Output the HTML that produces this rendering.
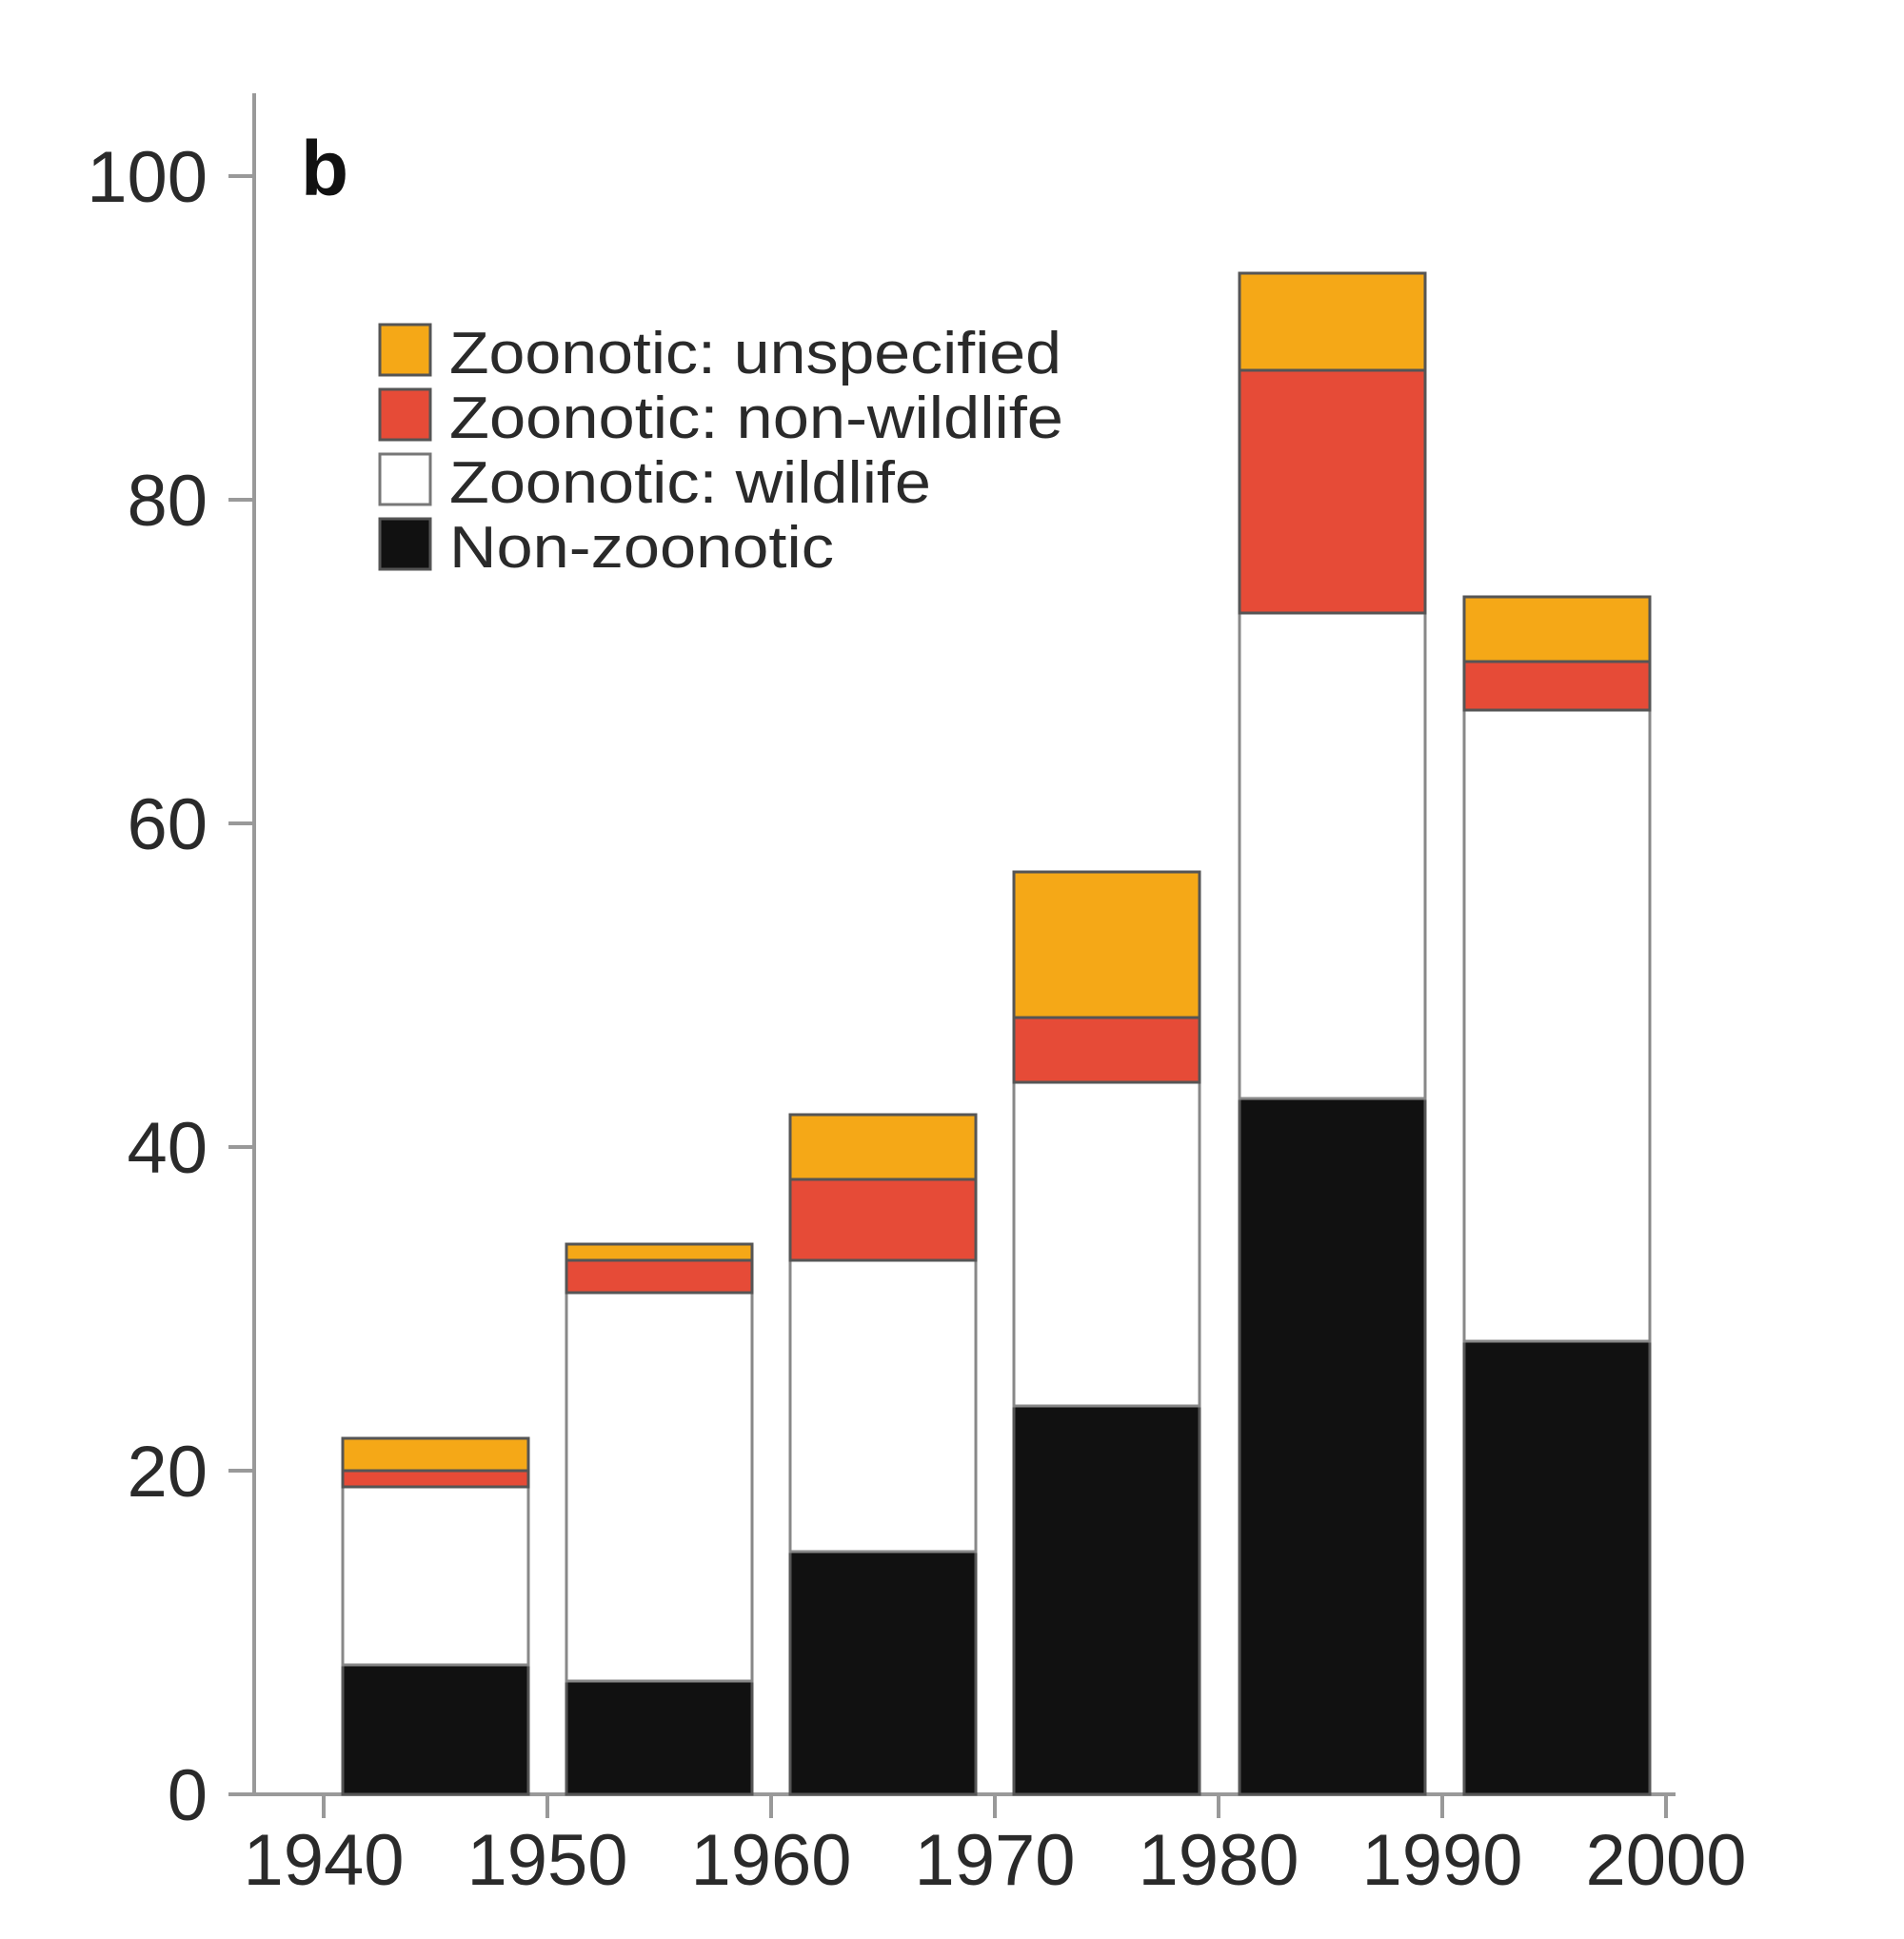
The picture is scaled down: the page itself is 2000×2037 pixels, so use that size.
<!DOCTYPE html>
<html><head><meta charset="utf-8"><style>html,body{margin:0;padding:0;background:#fff}svg{display:block}</style></head>
<body>
<svg width="2000" height="2037" viewBox="0 0 2000 2037" xmlns="http://www.w3.org/2000/svg" font-family="Liberation Sans, Arial, sans-serif">
<rect width="2000" height="2037" fill="#fff"/>
<g stroke="#999" stroke-width="4" fill="none">
<line x1="267" y1="98" x2="267" y2="1887"/>
<line x1="240" y1="1885" x2="1760" y2="1885"/>
<line x1="240" y1="185" x2="267" y2="185"/>
<line x1="240" y1="525" x2="267" y2="525"/>
<line x1="240" y1="865" x2="267" y2="865"/>
<line x1="240" y1="1205" x2="267" y2="1205"/>
<line x1="240" y1="1545" x2="267" y2="1545"/>
<line x1="340" y1="1885" x2="340" y2="1910"/>
<line x1="575" y1="1885" x2="575" y2="1910"/>
<line x1="810" y1="1885" x2="810" y2="1910"/>
<line x1="1045" y1="1885" x2="1045" y2="1910"/>
<line x1="1280" y1="1885" x2="1280" y2="1910"/>
<line x1="1515" y1="1885" x2="1515" y2="1910"/>
<line x1="1750" y1="1885" x2="1750" y2="1910"/>
</g>
<g font-size="76" fill="#2a2a2a" text-anchor="end">
<text x="218" y="212">100</text>
<text x="218" y="552">80</text>
<text x="218" y="892">60</text>
<text x="218" y="1232">40</text>
<text x="218" y="1572">20</text>
<text x="218" y="1912">0</text>
</g>
<g font-size="76" fill="#2a2a2a" text-anchor="middle">
<text x="340" y="1980">1940</text>
<text x="575" y="1980">1950</text>
<text x="810" y="1980">1960</text>
<text x="1045" y="1980">1970</text>
<text x="1280" y="1980">1980</text>
<text x="1515" y="1980">1990</text>
<text x="1750" y="1980">2000</text>
</g>
<text x="316" y="205" font-size="82" font-weight="bold" fill="#111">b</text>
<g stroke="#555" stroke-width="3">
<rect x="360" y="1749" width="195" height="136" fill="#111"/>
<rect x="360" y="1562" width="195" height="187" fill="#fff" stroke="#888"/>
<rect x="360" y="1545" width="195" height="17" fill="#e64b37"/>
<rect x="360" y="1511" width="195" height="34" fill="#f5a817"/>
<rect x="595" y="1766" width="195" height="119" fill="#111"/>
<rect x="595" y="1358" width="195" height="408" fill="#fff" stroke="#888"/>
<rect x="595" y="1324" width="195" height="34" fill="#e64b37"/>
<rect x="595" y="1307" width="195" height="17" fill="#f5a817"/>
<rect x="830" y="1630" width="195" height="255" fill="#111"/>
<rect x="830" y="1324" width="195" height="306" fill="#fff" stroke="#888"/>
<rect x="830" y="1239" width="195" height="85" fill="#e64b37"/>
<rect x="830" y="1171" width="195" height="68" fill="#f5a817"/>
<rect x="1065" y="1477" width="195" height="408" fill="#111"/>
<rect x="1065" y="1137" width="195" height="340" fill="#fff" stroke="#888"/>
<rect x="1065" y="1069" width="195" height="68" fill="#e64b37"/>
<rect x="1065" y="916" width="195" height="153" fill="#f5a817"/>
<rect x="1302" y="1154" width="195" height="731" fill="#111"/>
<rect x="1302" y="644" width="195" height="510" fill="#fff" stroke="#888"/>
<rect x="1302" y="389" width="195" height="255" fill="#e64b37"/>
<rect x="1302" y="287" width="195" height="102" fill="#f5a817"/>
<rect x="1538" y="1409" width="195" height="476" fill="#111"/>
<rect x="1538" y="746" width="195" height="663" fill="#fff" stroke="#888"/>
<rect x="1538" y="695" width="195" height="51" fill="#e64b37"/>
<rect x="1538" y="627" width="195" height="68" fill="#f5a817"/>
</g>
<g stroke="#555" stroke-width="3">
<rect x="399" y="341" width="53" height="53" fill="#f5a817"/>
<rect x="399" y="409" width="53" height="53" fill="#e64b37"/>
<rect x="399" y="477" width="53" height="53" fill="#fff" stroke="#777"/>
<rect x="399" y="545" width="53" height="53" fill="#111"/>
</g>
<g font-size="62" fill="#2a2a2a">
<text x="472" y="392" textLength="643" lengthAdjust="spacingAndGlyphs">Zoonotic: unspecified</text>
<text x="472" y="460" textLength="645" lengthAdjust="spacingAndGlyphs">Zoonotic: non-wildlife</text>
<text x="472" y="528" textLength="506" lengthAdjust="spacingAndGlyphs">Zoonotic: wildlife</text>
<text x="472" y="596" textLength="404" lengthAdjust="spacingAndGlyphs">Non-zoonotic</text>
</g>
</svg>
</body></html>
